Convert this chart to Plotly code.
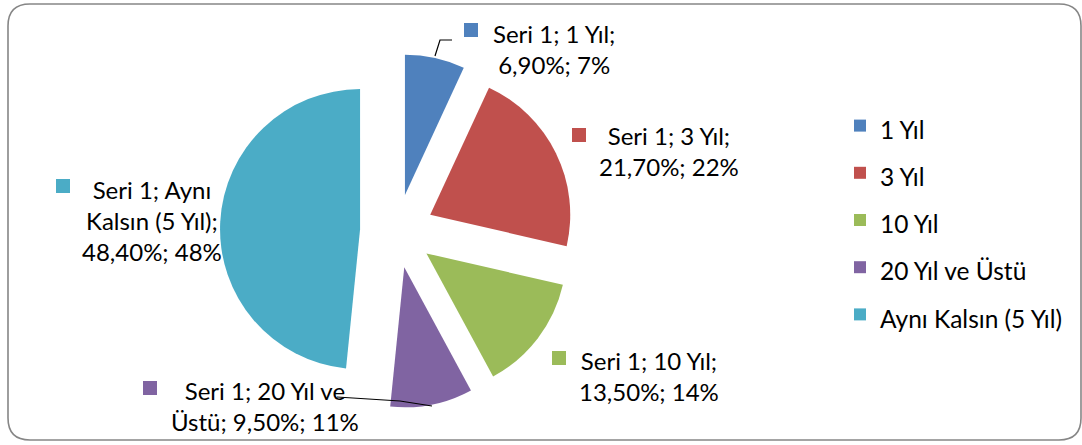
import textwrap
import plotly.graph_objects as go

# ---------------- data ----------------
series_name = "Seri 1"
categories = ["1 Yıl", "3 Yıl", "10 Yıl", "20 Yıl ve Üstü", "Aynı Kalsın (5 Yıl)"]
values = [6.9, 21.7, 13.5, 9.5, 48.4]
rounded_pct = [7, 22, 14, 11, 48]

# ---------------- style / layout ----------------
colors = ["#4F81BD", "#C0504D", "#9BBB59", "#8064A2", "#4BACC6"]
W, H = 1082, 445
FONT = "Lato"
LABEL_SIZE = 24
LEGEND_TEXT = 24.5

def px(x):
    return x / W

def py(y):
    return 1 - y / H

# label layout (pixel positions of text-block centre and key square centre)
wrap_width = [15, 15, 15, 17, 15]
text_pos = [(554, 49), (669, 151), (649, 376), (265, 406), (152, 220)]
key_pos = [(471, 30), (579, 135), (559, 358), (150, 388), (63, 186)]
KEY = 14

def fmt(v):
    return f"{v:.2f}".replace(".", ",") + "%"

fig = go.Figure()
fig.add_trace(go.Pie(
    labels=[f'<span style="font-size:{LEGEND_TEXT}px">{c}</span>' for c in categories],
    hovertext=categories,
    values=values,
    sort=False,
    direction="clockwise",
    rotation=0,
    pull=[0.264] * len(values),
    marker=dict(colors=colors, line=dict(width=0)),
    textinfo="none",
    domain=dict(x=[px(220), px(574)], y=[py(408), py(54)]),
))

shapes = []
annotations = []
for i, cat in enumerate(categories):
    full = f"{series_name}; {cat}; {fmt(values[i])}; {rounded_pct[i]}%"
    lines = textwrap.wrap(full, width=wrap_width[i])
    tx, ty = text_pos[i]
    annotations.append(dict(
        x=px(tx), y=py(ty), xref="paper", yref="paper",
        xanchor="center", yanchor="middle", align="center",
        text="<br>".join(lines), showarrow=False,
        font=dict(family=FONT, size=LABEL_SIZE, color="#000000"),
    ))
    kx, ky = key_pos[i]
    shapes.append(dict(
        type="rect", xref="paper", yref="paper",
        x0=px(kx - KEY / 2), x1=px(kx + KEY / 2),
        y0=py(ky + KEY / 2), y1=py(ky - KEY / 2),
        fillcolor=colors[i], line=dict(width=0),
    ))

# leader lines
def path(pts):
    s = "M %f %f" % (px(pts[0][0]), py(pts[0][1]))
    for x, y in pts[1:]:
        s += " L %f %f" % (px(x), py(y))
    return s

shapes.append(dict(type="path", xref="paper", yref="paper",
                   path=path([(435, 56), (440, 40), (452, 40)]),
                   line=dict(color="#000000", width=1.2)))
shapes.append(dict(type="path", xref="paper", yref="paper",
                   path=path([(337, 397), (400, 401), (432, 406)]),
                   line=dict(color="#000000", width=1.2)))

# rounded border
x0, y0, x1, y1, r = 8, 4, 1081, 440, 22
bp = ("M %f %f L %f %f Q %f %f %f %f L %f %f Q %f %f %f %f "
      "L %f %f Q %f %f %f %f L %f %f Q %f %f %f %f Z") % (
    px(x0 + r), py(y0), px(x1 - r), py(y0),
    px(x1), py(y0), px(x1), py(y0 + r),
    px(x1), py(y1 - r),
    px(x1), py(y1), px(x1 - r), py(y1),
    px(x0 + r), py(y1),
    px(x0), py(y1), px(x0), py(y1 - r),
    px(x0), py(y0 + r),
    px(x0), py(y0), px(x0 + r), py(y0))
shapes.append(dict(type="path", xref="paper", yref="paper", path=bp,
                   line=dict(color="#868686", width=1.6), layer="below"))

fig.update_layout(
    width=W, height=H,
    margin=dict(l=0, r=0, t=0, b=0),
    paper_bgcolor="white",
    plot_bgcolor="white",
    font=dict(family=FONT, color="#000000"),
    showlegend=True,
    legend=dict(
        x=px(840), y=py(97), xanchor="left", yanchor="top",
        font=dict(family=FONT, size=34, color="#000000"),
        bgcolor="rgba(0,0,0,0)",
    ),
    shapes=shapes,
    annotations=annotations,
)

fig.write_html("out.html", config={"displayModeBar": False},
               post_script="document.body.style.margin='0';")
